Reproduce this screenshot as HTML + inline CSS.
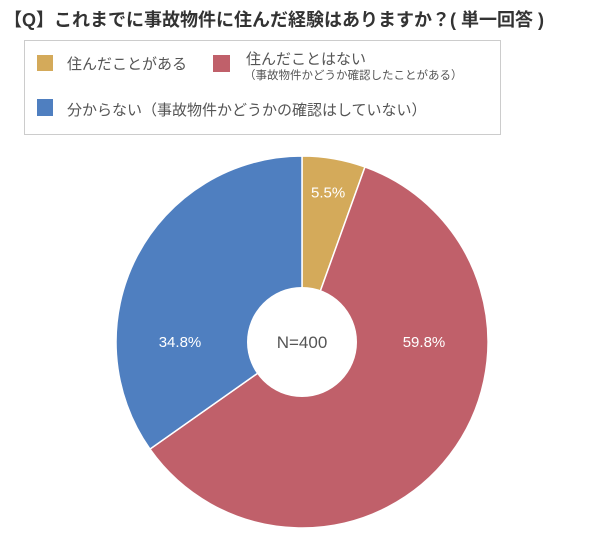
<!DOCTYPE html>
<html><head><meta charset="utf-8">
<style>
body{margin:0;width:600px;height:538px;background:#fff;font-family:"Liberation Sans","Noto Sans CJK JP",sans-serif;overflow:hidden;position:relative}
.t{position:absolute;white-space:nowrap;color:#555}
.sq{position:absolute;width:16px;height:16px}
</style></head><body>
<div class="t" style="left:4px;top:6px;font-size:18px;font-weight:bold;color:#333">【Q】これまでに事故物件に住んだ経験はありますか？( 単一回答 )</div>
<div style="position:absolute;left:24px;top:40px;width:477px;height:95px;border:1px solid #ccc;box-sizing:border-box">
</div>
<div class="sq" style="left:37px;top:55px;background:#d4aa5a"></div>
<div class="t" style="left:67px;top:53px;font-size:15px">住んだことがある</div>
<div class="sq" style="left:213px;top:55px;width:17px;height:17px;background:#c0606a"></div>
<div class="t" style="left:246px;top:48px;font-size:15px">住んだことはない</div>
<div class="t" style="left:244px;top:67px;font-size:11.5px">（事故物件かどうか確認したことがある）</div>
<div class="sq" style="left:37px;top:99px;height:17px;background:#4f7fc0"></div>
<div class="t" style="left:67px;top:99px;font-size:15px">分からない（事故物件かどうかの確認はしていない）</div>
<svg id="pie" width="600" height="538" style="position:absolute;left:0;top:0"></svg>
<script>
const categories=["住んだことがある","住んだことはない","分からない"];
const values=[5.5,59.8,34.8];
const colors=["#d4aa5a","#c0606a","#4f7fc0"];
const cx=302,cy=342,R=186,r=55;
const svg=document.getElementById('pie');
const NS="http://www.w3.org/2000/svg";
const total=values.reduce((a,b)=>a+b,0);
let a0=0;
function pt(a,rad){return [cx+rad*Math.sin(a),cy-rad*Math.cos(a)];}
values.forEach((v,i)=>{
  const a1=a0+v/total*2*Math.PI;
  const [x0,y0]=pt(a0,R),[x1,y1]=pt(a1,R);
  const large=(a1-a0)>Math.PI?1:0;
  const p=document.createElementNS(NS,'path');
  p.setAttribute('d',`M${cx},${cy}L${x0},${y0}A${R},${R} 0 ${large} 1 ${x1},${y1}Z`);
  p.setAttribute('fill',colors[i]);p.setAttribute('stroke','#fff');p.setAttribute('stroke-width','1.5');
  
  
  svg.appendChild(p);
  const am=(a0+a1)/2;
  let lx,ly;
  if(v<10){[lx,ly]=pt(am,152);}
  else{lx=cx+(Math.sin(am)>=0?1:-1)*122;ly=cy;}
  const t=document.createElementNS(NS,'text');
  t.setAttribute('x',lx);t.setAttribute('y',ly+5);t.setAttribute('text-anchor','middle');
  t.setAttribute('fill','#fff');t.setAttribute('font-size','15');
  t.textContent=v.toFixed(1)+'%';
  
  
  svg.appendChild(t);
  a0=a1;
});
const c=document.createElementNS(NS,'circle');
c.setAttribute('cx',cx);c.setAttribute('cy',cy);c.setAttribute('r',r);c.setAttribute('fill','#fff');


svg.appendChild(c);
const n=document.createElementNS(NS,'text');
n.setAttribute('x',cx);n.setAttribute('y',cy+6);n.setAttribute('text-anchor','middle');n.setAttribute('font-size','17');n.setAttribute('fill','#555');
n.textContent='N=400';


svg.appendChild(n);
</script>
</body></html>
